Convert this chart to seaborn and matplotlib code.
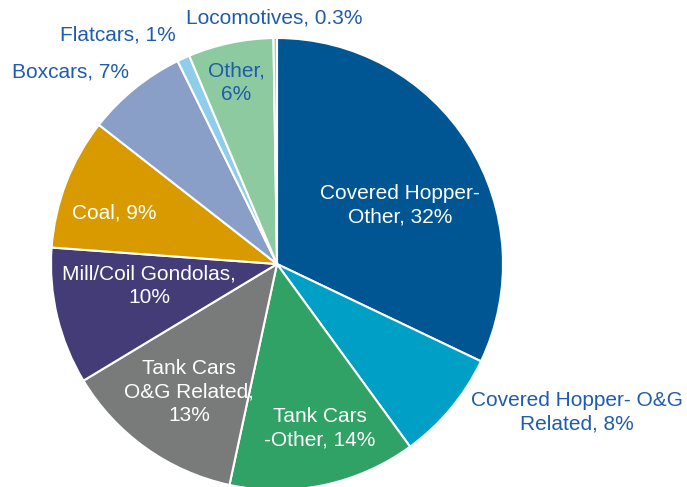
import matplotlib
matplotlib.use("Agg")
import matplotlib.pyplot as plt
import seaborn as sns

sns.set_theme(style="white")
plt.rcParams['font.family'] = ['Liberation Sans', 'DejaVu Sans']

categories = ["Covered Hopper-\nOther, 32%", "Covered Hopper- O&G\nRelated, 8%",
              "Tank Cars\n-Other, 14%", "Tank Cars\nO&G Related,\n13%",
              "Mill/Coil Gondolas,\n10%", "Coal, 9%", "Boxcars, 7%",
              "Flatcars, 1%", "Other,\n6%", "Locomotives, 0.3%"]
# slice shares
values = [32.1, 7.9, 13.4, 13.0, 9.8, 9.4, 7.2, 0.9, 6.1, 0.25]
colors = ["#005693", "#00A0C6", "#30A266", "#797B7B", "#443C77",
          "#D99A00", "#8A9FC8", "#8FCDEB", "#8DCAA0", "#BDBDBD"]
label_colors = ["white", "#1F5BAE", "white", "white", "white", "white",
                "#1F5BAE", "#1F5BAE", "#1F5BAE", "#1F5BAE"]
# label centre positions in pixels (x from left, y from top)
label_pos = [(400, 205), (577, 412), (320, 428), (189, 392), (149, 286),
             (114, 213), (70, 72), (118, 35), (236, 83), (274, 18)]

W, H = 687, 487
fig = plt.figure(figsize=(W / 100, H / 100), dpi=100)
ax = fig.add_axes([0, 0, 1, 1])
ax.pie(values, colors=colors, startangle=90, counterclock=False,
       center=(277, H - 264), radius=226,
       wedgeprops=dict(edgecolor="white", linewidth=1.5))
for lab, (x, y), c in zip(categories, label_pos, label_colors):
    ax.text(x, H - y, lab, color=c, ha="center", va="center",
            fontsize=15, linespacing=1.27, zorder=5)
ax.set_xlim(0, W)
ax.set_ylim(0, H)
ax.set_aspect("equal")
ax.axis("off")
fig.savefig("out.png", dpi=100)
